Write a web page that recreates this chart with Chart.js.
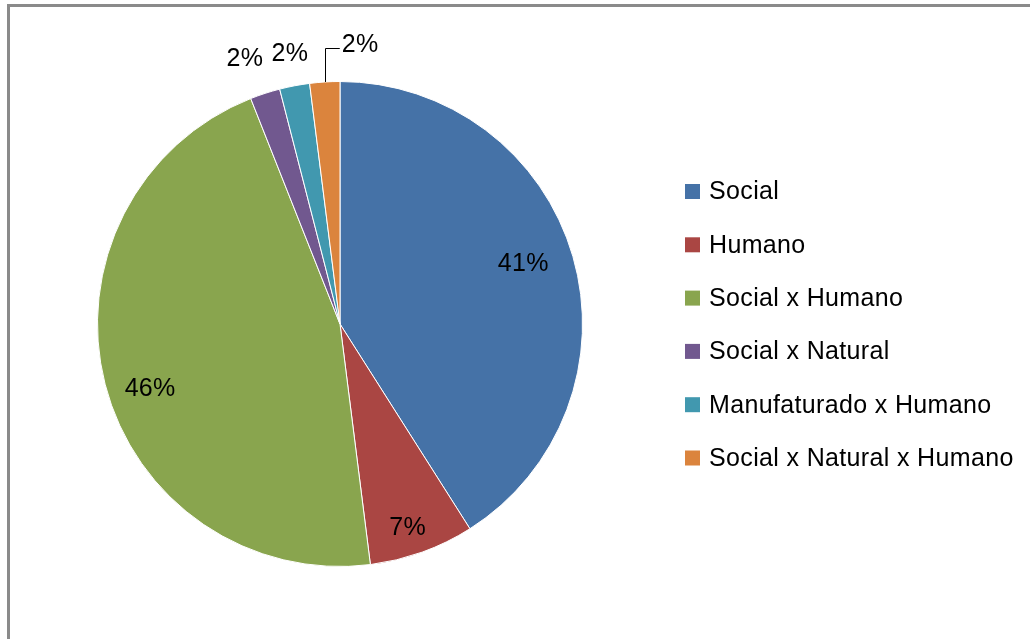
<!DOCTYPE html>
<html>
<head>
<meta charset="utf-8">
<script src="https://cdn.jsdelivr.net/npm/chart.js@4/dist/chart.umd.min.js"></script>
<style>
  html, body { margin: 0; padding: 0; background: #fff; }
  #wrap { position: relative; width: 1030px; height: 639px; }
</style>
</head>
<body>
<div id="wrap"><canvas id="c"></canvas></div>
<script>
// Categories and their shares (%)
const categories = ['Social', 'Humano', 'Social x Humano', 'Social x Natural', 'Manufaturado x Humano', 'Social x Natural x Humano'];
const shares = [41, 7, 46, 2, 2, 2];
const sliceColors = ['#4572A7', '#AA4643', '#89A54E', '#71588F', '#4198AF', '#DB843D'];

const FONT = '"Liberation Sans", Arial, sans-serif';

// Outer frame around the whole figure
const framePlugin = {
  id: 'frame',
  beforeDraw(chart) {
    const ctx = chart.ctx;
    ctx.save();
    ctx.strokeStyle = '#8a8a8a';
    ctx.lineWidth = 3;
    ctx.strokeRect(8.5, 5.5, 1100, 700);
    ctx.restore();
  }
};

// Percentage labels: inside for large slices, outside for thin ones
const valueLabels = {
  id: 'valueLabels',
  afterDatasetsDraw(chart, args, opts) {
    const ctx = chart.ctx;
    const meta = chart.getDatasetMeta(0);
    const data = chart.data.datasets[0].data;
    ctx.save();
    ctx.font = opts.size + 'px ' + FONT;
    ctx.letterSpacing = opts.spacing;
    ctx.fillStyle = '#000';
    ctx.textBaseline = 'middle';
    meta.data.forEach((arc, i) => {
      const { x, y, startAngle, endAngle, outerRadius } = arc.getProps(['x', 'y', 'startAngle', 'endAngle', 'outerRadius'], true);
      const mid = (startAngle + endAngle) / 2;
      const text = data[i] + '%';
      const cos = Math.cos(mid), sin = Math.sin(mid);
      const nudge = opts.nudge[i] || [0, 0];
      if (data[i] >= 5) {
        const r = outerRadius * opts.insideFactor;
        ctx.textAlign = 'center';
        ctx.fillText(text, x + cos * r + nudge[0], y + sin * r + nudge[1]);
      } else if (opts.leader[i]) {
        // displaced label joined to its slice by an elbow line
        const ld = opts.leader[i];
        const sx = x + cos * outerRadius, sy = y + sin * outerRadius;
        const ly = sy - ld.rise;
        const lx = sx + ld.run;
        ctx.strokeStyle = '#000';
        ctx.lineWidth = 1;
        ctx.beginPath();
        ctx.moveTo(Math.round(sx) + 0.5, sy);
        ctx.lineTo(Math.round(sx) + 0.5, Math.round(ly) + 0.5);
        ctx.lineTo(lx, Math.round(ly) + 0.5);
        ctx.stroke();
        ctx.textAlign = 'left';
        ctx.fillText(text, lx + 2, ly - 3);
      } else {
        const r = outerRadius + opts.outsideGap;
        ctx.textAlign = 'center';
        ctx.fillText(text, x + cos * r + nudge[0], y + sin * r + nudge[1]);
      }
    });
    ctx.restore();
  }
};

// Legend on the right with square swatches
const sideLegend = {
  id: 'sideLegend',
  afterDraw(chart, args, opts) {
    const ctx = chart.ctx;
    ctx.save();
    ctx.font = opts.size + 'px ' + FONT;
    ctx.letterSpacing = opts.spacing;
    ctx.textBaseline = 'middle';
    ctx.textAlign = 'left';
    categories.forEach((name, i) => {
      const cy = opts.top + i * opts.step;
      ctx.fillStyle = sliceColors[i];
      ctx.fillRect(opts.left, cy - opts.box / 2, opts.box, opts.box);
      ctx.fillStyle = '#000';
      ctx.fillText(name, opts.left + opts.box + 9, cy + 1);
    });
    ctx.restore();
  }
};

new Chart(document.getElementById('c'), {
  type: 'pie',
  data: {
    labels: categories,
    datasets: [{
      data: shares,
      backgroundColor: sliceColors,
      borderColor: '#ffffff',
      borderWidth: 1
    }]
  },
  options: {
    responsive: true,
    maintainAspectRatio: false,
    animation: false,
    layout: { padding: { left: 97, top: 81, right: 447, bottom: 72 } },
    plugins: {
      legend: { display: false },
      tooltip: { enabled: false },
      valueLabels: {
        size: 25,
        spacing: '0.3px',
        insideFactor: 0.8,
        outsideGap: 36,
        nudge: { 0: [-3, -6], 1: [2, 22], 2: [-2, 17], 3: [-9, 0], 4: [2, 4] },
        leader: { 5: { rise: 34, run: 15 } }
      },
      sideLegend: { left: 685, top: 191.5, step: 53.3, box: 15, size: 25, spacing: '0.35px' }
    }
  },
  plugins: [framePlugin, valueLabels, sideLegend]
});
</script>
</body>
</html>
